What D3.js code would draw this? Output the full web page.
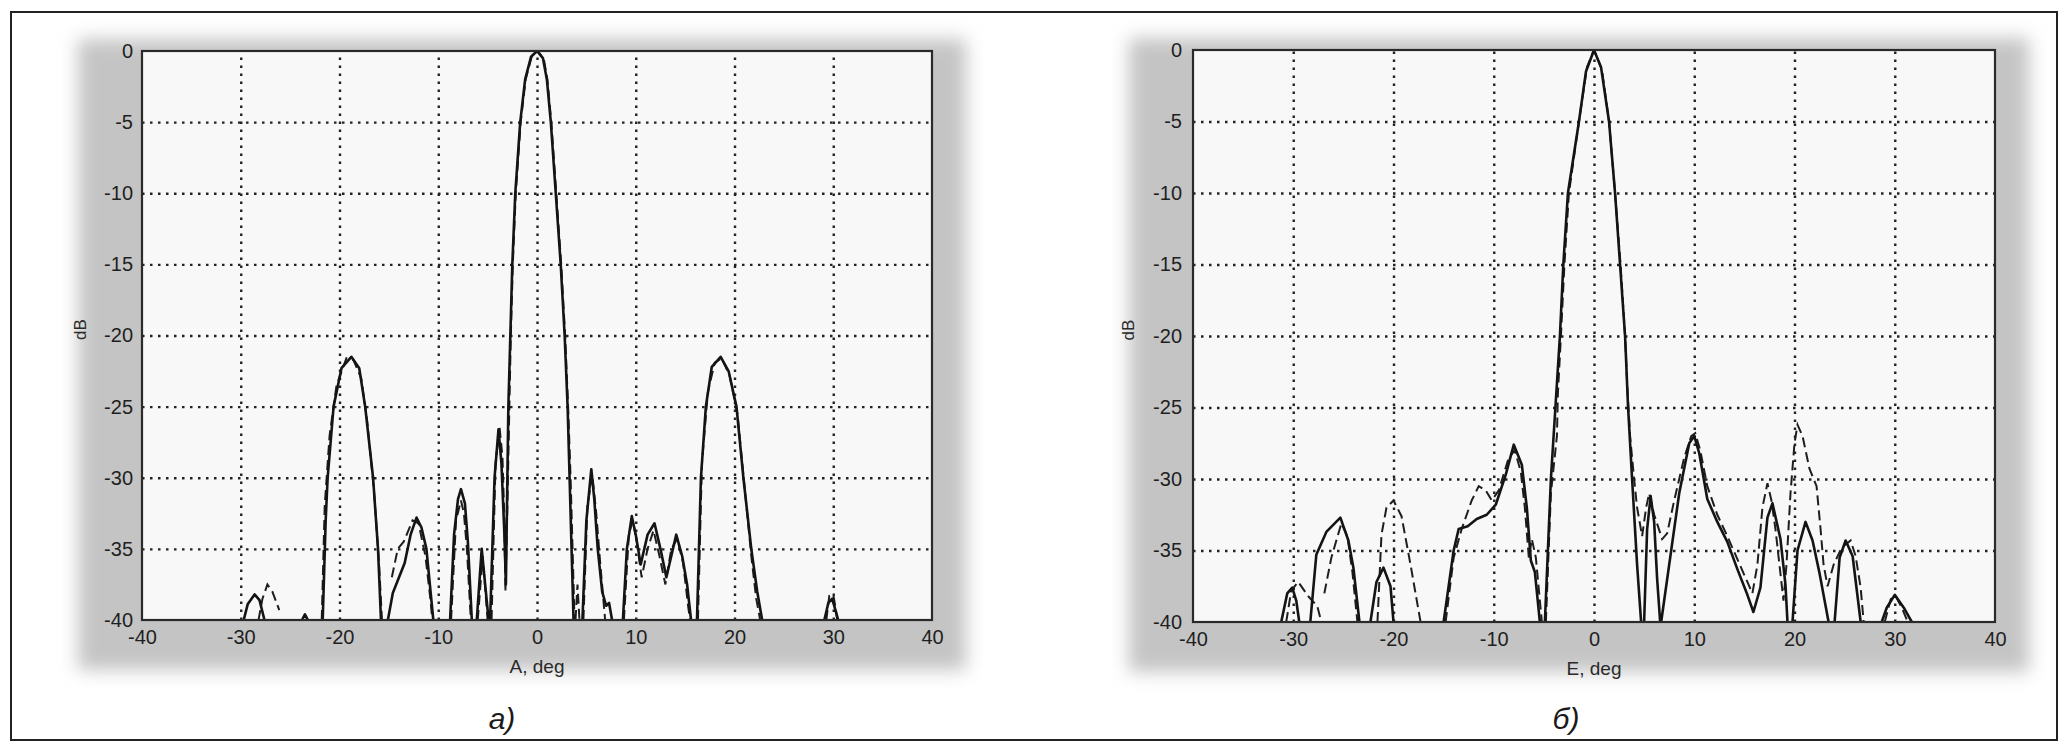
<!DOCTYPE html>
<html>
<head>
<meta charset="utf-8">
<script src="https://cdn.jsdelivr.net/npm/d3@7"></script>
<style>
  body { margin: 0; background: #fff; }
  svg { display: block; }
  .tick text { font-family: "Liberation Sans", Arial, sans-serif; font-size: 20px; fill: #1f1f1f; }
  .grid line { stroke: #222; stroke-width: 2.4; stroke-dasharray: 2.5,5.5; }
  .grid path { display: none; }
</style>
</head>
<body>
<svg id="chart" width="2062" height="743"></svg>
<script>
// tick values (same for both panels)
var xTicks = [-40, -30, -20, -10, 0, 10, 20, 30, 40];
var yTicks = [0, -5, -10, -15, -20, -25, -30, -35, -40];

// panel a) — azimuth, [deg, dB]; null breaks the line where it drops under -40
var aSolid = [
  [-29.7,-40],[-29.3,-38.9],[-28.6,-38.2],[-28.1,-38.6],[-27.6,-40], null,
  [-23.8,-40],[-23.5,-39.6],[-23.2,-40], null,
  [-21.7,-40],[-21.4,-33],[-21.2,-30],[-20.6,-25],[-19.8,-22.3],[-18.8,-21.5],[-18.0,-22.3],[-17.4,-25],[-16.6,-30],[-16.1,-35],[-15.8,-40], null,
  [-15.1,-40],[-14.6,-38.1],[-13.4,-36],[-12.8,-34],[-12.2,-32.8],[-11.7,-33.5],[-11.2,-35],[-10.5,-40], null,
  [-8.8,-40],[-8.4,-34],[-8.0,-31.5],[-7.7,-30.8],[-7.3,-31.8],[-7.0,-34.5],[-6.6,-40], null,
  [-6.1,-40],[-5.6,-35],[-4.9,-40], null,
  [-4.75,-40],[-4.3,-30],[-3.9,-26.6],[-3.6,-29],[-3.3,-34],[-3.15,-37.5],[-3.0,-30],[-2.9,-25],[-2.7,-20],[-2.5,-15],[-2.2,-10],[-1.7,-5],[-1.2,-2],[-0.6,-0.4],[0,0],
  [0.6,-0.5],[1.0,-2],[1.4,-5],[1.9,-10],[2.4,-15],[2.8,-20],[3.1,-25],[3.3,-30],[3.5,-35],[3.7,-40], null,
  [4.6,-40],[5.0,-33],[5.5,-29.4],[5.8,-31.5],[6.15,-35],[6.6,-38],[7.0,-39],[7.3,-38.8],[7.6,-40], null,
  [8.7,-40],[9.1,-35],[9.6,-32.7],[10.0,-34],[10.5,-36.1],[11.2,-34],[11.9,-33.2],[12.5,-35],[13.1,-37],[13.6,-35.5],[14.1,-34],[14.7,-35.5],[15.2,-37.5],[15.6,-40], null,
  [16.2,-40],[16.6,-30],[17.1,-25],[17.7,-22.2],[18.6,-21.5],[19.4,-22.5],[20.2,-25],[20.9,-30],[21.7,-35],[22.3,-38],[22.8,-40], null,
  [29.1,-40],[29.5,-38.8],[29.9,-38.5],[30.3,-39.5],[30.5,-40]
];
var aDashed = [
  [-28.2,-40],[-27.8,-38.5],[-27.3,-37.5],[-26.8,-38],[-26.1,-39.3], null,
  [-21.8,-40],[-21.5,-32],[-21.0,-27],[-20.3,-23.5],[-19.3,-21.6],[-18.6,-21.7],[-17.8,-23],[-17.2,-26],[-16.5,-31],[-16.0,-36],[-15.7,-40], null,
  [-14.7,-37],[-14.1,-35],[-13.5,-34.5],[-12.6,-33],[-12.0,-33.2],[-11.3,-35.5],[-10.8,-38.5],[-10.6,-40], null,
  [-8.7,-40],[-8.2,-33],[-7.7,-31.6],[-7.4,-32.5],[-7.1,-35],[-6.7,-40], null,
  [-6.0,-40],[-5.5,-35.5],[-5.0,-40], null,
  [-4.6,-40],[-4.2,-29],[-3.8,-26.4],[-3.5,-28.5],[-3.3,-33],[-3.2,-38],[-3.0,-32],[-2.8,-25],[-2.65,-20],[-2.45,-15],[-2.15,-10],[-1.65,-5],[-1.15,-2],[-0.5,-0.3],[0.1,0],
  [0.7,-0.6],[1.05,-2],[1.45,-5],[1.95,-10],[2.45,-15],[2.85,-20],[3.15,-25],[3.4,-30],[3.6,-35],[3.8,-40], null,
  [3.9,-40],[4.1,-37.5],[4.3,-40], null,
  [4.7,-40],[5.1,-32],[5.6,-29.8],[6.0,-32.5],[6.4,-36],[6.9,-40], null,
  [8.8,-40],[9.3,-34],[9.7,-33],[10.1,-34.5],[10.6,-37],[11.2,-35],[11.8,-33.7],[12.4,-35.5],[13.0,-37.5],[13.6,-35],[14.2,-34.3],[14.8,-36],[15.3,-39],[15.5,-40], null,
  [16.3,-40],[16.7,-29],[17.3,-24],[18.0,-21.9],[18.7,-21.6],[19.5,-22.8],[20.3,-25.5],[21.0,-30.5],[21.7,-35.5],[22.2,-38.5],[22.6,-40], null,
  [29.3,-40],[29.6,-38.3],[30.0,-38.2],[30.2,-39],[30.4,-40]
];

// panel б) — elevation
var eSolid = [
  [-31.2,-40],[-30.6,-38],[-30.1,-37.6],[-29.7,-38.5],[-29.4,-40], null,
  [-28.3,-40],[-27.7,-35.3],[-26.7,-33.7],[-25.3,-32.7],[-24.5,-34.3],[-24.0,-36.2],[-23.4,-40], null,
  [-22.3,-40],[-21.7,-37.2],[-21.0,-36.2],[-20.3,-37.5],[-20.0,-40], null,
  [-15.0,-40],[-14.0,-35],[-13.5,-33.5],[-12.6,-33.3],[-11.7,-32.8],[-10.7,-32.5],[-9.8,-31.8],[-8.8,-29.7],[-8.0,-27.6],[-7.2,-29],[-6.7,-32],[-6.3,-35.7],[-5.9,-36.5],[-5.4,-40], null,
  [-4.9,-40],[-4.3,-30],[-3.85,-25],[-3.4,-20],[-3.06,-15],[-2.6,-10],[-1.5,-5],[-0.8,-1.5],[0,0],
  [0.7,-1.2],[1.5,-5],[2.1,-10],[2.6,-15],[3.1,-20],[3.4,-25],[3.8,-30],[4.3,-36],[4.7,-40], null,
  [5.0,-40],[5.3,-33.5],[5.65,-31.2],[6.0,-33],[6.3,-37],[6.6,-40], null,
  [6.7,-40],[7.5,-36],[8.5,-31],[9.5,-27.5],[10.0,-27],[10.5,-28.2],[11.3,-31.4],[12.3,-33],[13.3,-34.4],[14.3,-36.3],[15.3,-38.1],[15.9,-39.3],[16.6,-37.6],[17.3,-32.7],[17.8,-31.7],[18.6,-34.2],[19.1,-37.4],[19.3,-40], null,
  [19.8,-40],[20.3,-35],[21.1,-33],[21.8,-34.3],[22.5,-36.6],[23.4,-40], null,
  [24.0,-40],[24.5,-35.5],[25.1,-34.3],[25.8,-35.4],[26.6,-40], null,
  [28.7,-40],[29.2,-39],[30.0,-38.1],[30.9,-39],[31.7,-40]
];
var eDashed = [
  [-30.7,-40],[-30.2,-37.8],[-29.5,-37.2],[-28.5,-38.2],[-27.6,-38.9],[-27.2,-40], null,
  [-26.9,-38],[-26.2,-35.5],[-25.2,-33.1],[-24.6,-34],[-24.1,-36.5],[-23.6,-40], null,
  [-21.6,-40],[-21.2,-33.9],[-20.7,-32],[-20.0,-31.5],[-19.2,-32.6],[-18.3,-36],[-17.3,-40], null,
  [-14.8,-40],[-14.0,-35.5],[-13.2,-33.5],[-12.2,-31.5],[-11.5,-30.5],[-10.8,-30.8],[-10.2,-31.5],[-9.5,-30.8],[-8.5,-28.5],[-7.9,-28],[-7.3,-29.5],[-6.9,-32],[-6.5,-35.5],[-6.2,-34.2],[-5.8,-35.5],[-5.2,-40], null,
  [-4.8,-40],[-4.3,-31],[-3.7,-27],[-3.6,-24],[-3.3,-20],[-2.95,-15],[-2.5,-10],[-1.5,-5],[-0.7,-1.2],[0,0],
  [0.8,-1.4],[1.5,-5],[2.1,-10],[2.65,-15],[3.1,-20],[3.35,-24],[3.6,-27],[4.0,-30],[4.3,-32],[4.8,-34],[5.2,-32],[5.5,-31],[6.0,-32.5],[6.8,-34.2],[7.3,-33.8],
  [8.0,-31.5],[9.0,-28.5],[9.7,-27],[10.1,-26.8],[10.6,-28],[11.3,-30.5],[12.3,-32.5],[13.3,-34],[14.3,-35.6],[15.3,-37.2],[15.8,-38],[16.3,-36],[16.8,-32],[17.3,-30.3],[17.7,-31.5],[18.1,-33.5],[18.5,-36],[18.9,-38.5],
  [19.2,-36],[19.6,-31],[20.0,-27.5],[20.3,-26.2],[20.8,-27],[21.5,-29.3],[22.2,-30.5],[22.6,-33.5],[22.9,-36],[23.3,-37.5],[23.9,-36],[24.7,-34.8],[25.6,-34.3],[26.1,-35.4],[26.6,-37.6],[26.9,-40], null,
  [29.0,-40],[29.6,-38.4],[30.1,-38.2],[30.7,-39],[31.3,-40]
];

var svg = d3.select("#chart");

var defs = svg.append("defs");
defs.append("filter")
    .attr("id", "halo")
    .attr("x", "-10%").attr("y", "-10%").attr("width", "120%").attr("height", "120%")
  .append("feGaussianBlur")
    .attr("stdDeviation", 9);

// outer frame of the figure
svg.append("rect")
    .attr("x", 11).attr("y", 12)
    .attr("width", 2046).attr("height", 728)
    .attr("fill", "none")
    .attr("stroke", "#222")
    .attr("stroke-width", 2);

function drawPanel(p) {
    var x = d3.scaleLinear().domain([-40, 40]).range([0, p.w]);
    var y = d3.scaleLinear().domain([-40, 0]).range([p.h, 0]);

    // grey scan shadow behind each panel
    svg.append("rect")
        .attr("x", p.left - 64).attr("y", p.top - 12)
        .attr("width", p.w + 98).attr("height", p.h + 62)
        .attr("fill", "#c4c4c4")
        .attr("filter", "url(#halo)");

    var g = svg.append("g").attr("transform", "translate(" + p.left + "," + p.top + ")");

    g.append("rect")
        .attr("width", p.w).attr("height", p.h)
        .attr("fill", "#f8f8f8");

    defs.append("clipPath").attr("id", "clip" + p.id)
      .append("rect").attr("width", p.w).attr("height", p.h);

    // dotted grid
    g.append("g")
        .attr("class", "grid")
        .attr("transform", "translate(0," + p.h + ")")
        .call(d3.axisBottom(x).tickValues(xTicks.slice(1, -1)).tickSize(-p.h).tickFormat(""));
    g.append("g")
        .attr("class", "grid")
        .call(d3.axisLeft(y).tickValues(yTicks.slice(1, -1)).tickSize(-p.w).tickFormat(""));

    // tick labels
    var xa = g.append("g")
        .attr("transform", "translate(0," + p.h + ")")
        .call(d3.axisBottom(x).tickValues(xTicks).tickSize(0).tickPadding(10).tickFormat(function (d) { return String(d); }));
    xa.select(".domain").remove();
    var ya = g.append("g")
        .call(d3.axisLeft(y).tickValues(yTicks).tickSize(0).tickPadding(p.ypad).tickFormat(function (d) { return String(d); }));
    ya.select(".domain").remove();

    var line = d3.line()
        .defined(function (d) { return d != null; })
        .x(function (d) { return x(d[0]); })
        .y(function (d) { return y(d[1]); });

    var lines = g.append("g").attr("clip-path", "url(#clip" + p.id + ")");
    lines.append("path")
        .datum(p.dashed)
        .attr("d", line)
        .attr("fill", "none")
        .attr("stroke", "#1e1e1e")
        .attr("stroke-width", 2)
        .attr("stroke-dasharray", "10,5");
    lines.append("path")
        .datum(p.solid)
        .attr("d", line)
        .attr("fill", "none")
        .attr("stroke", "#141414")
        .attr("stroke-width", 2.6)
        .attr("stroke-linejoin", "round");

    // axes box
    g.append("rect")
        .attr("width", p.w).attr("height", p.h)
        .attr("fill", "none")
        .attr("stroke", "#2a2a2a")
        .attr("stroke-width", 2.2);

    g.append("text")
        .attr("x", p.w / 2).attr("y", p.h + 53)
        .attr("text-anchor", "middle")
        .style("font-family", "Liberation Sans, Arial, sans-serif")
        .style("font-size", "19px")
        .style("fill", "#2a2a2a")
        .text(p.xlabel);

    g.append("text")
        .attr("transform", "translate(" + p.ylabelX + "," + (y(-20) - 6) + ") rotate(-90)")
        .attr("text-anchor", "middle")
        .style("font-family", "Liberation Sans, Arial, sans-serif")
        .style("font-size", "17px")
        .style("fill", "#2a2a2a")
        .text("dB");

    svg.append("text")
        .attr("x", p.capX).attr("y", 729)
        .attr("text-anchor", "middle")
        .style("font-family", "Liberation Sans, Arial, sans-serif")
        .style("font-style", "italic")
        .style("font-size", "30px")
        .style("fill", "#1a1a1a")
        .text(p.caption);
}

drawPanel({ id: "a", left: 142, top: 51, w: 790, h: 569, ypad: 9, ylabelX: -56,
            solid: aSolid, dashed: aDashed, xlabel: "A, deg", caption: "а)", capX: 502 });
drawPanel({ id: "b", left: 1193, top: 50, w: 802, h: 572, ypad: 11, ylabelX: -59,
            solid: eSolid, dashed: eDashed, xlabel: "E, deg", caption: "б)", capX: 1566 });
</script>
</body>
</html>
